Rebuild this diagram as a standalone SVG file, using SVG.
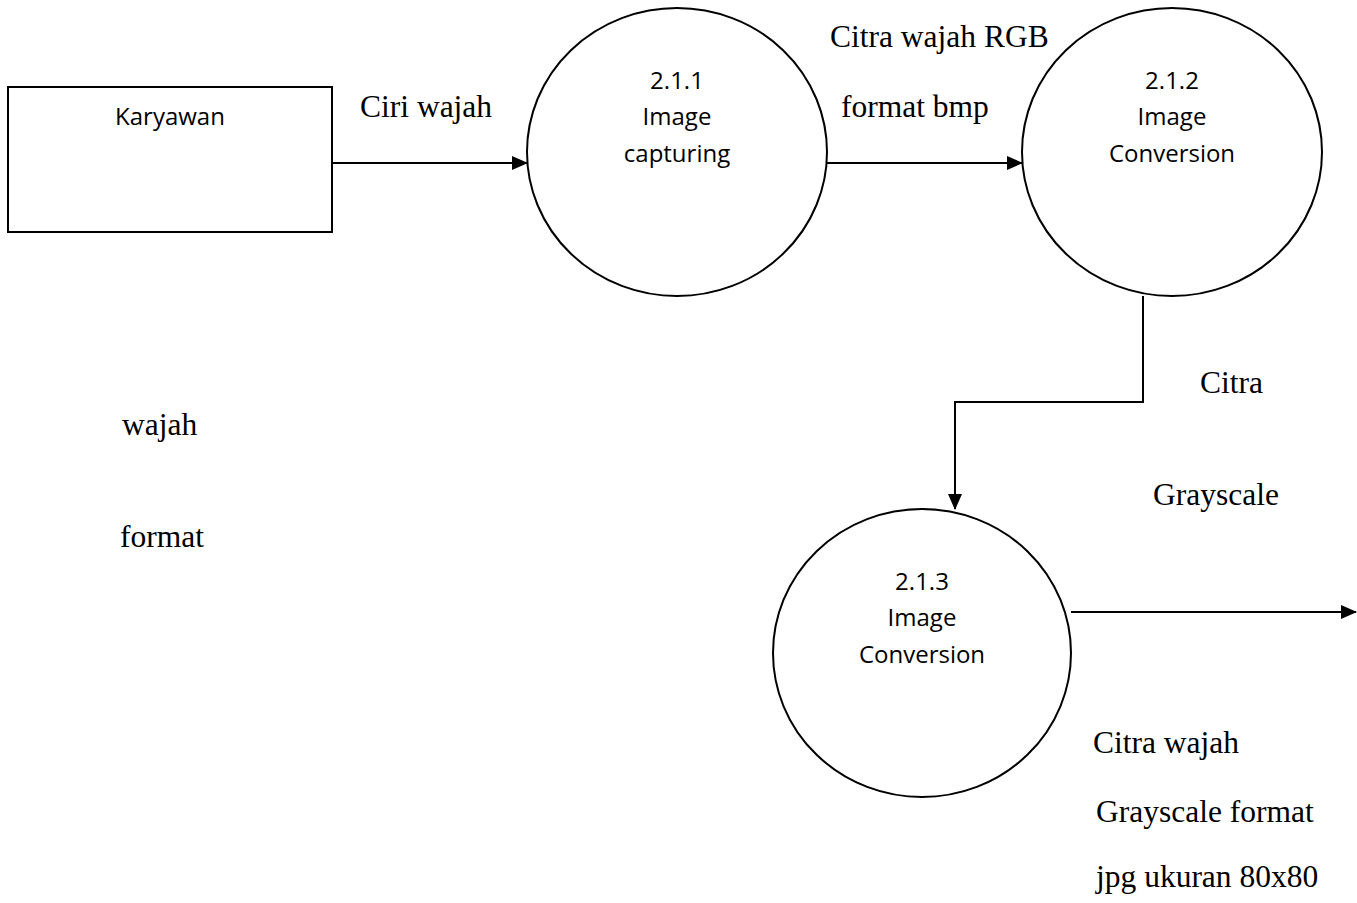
<svg xmlns="http://www.w3.org/2000/svg" width="1357" height="903" viewBox="0 0 1357 903">
<style>
.shape{fill:#fff;stroke:#000;stroke-width:2}
.conn{fill:none;stroke:#000;stroke-width:2}
.lbl{font-family:"Open Sans","Liberation Sans",sans-serif;font-size:24px;fill:#000;text-anchor:middle}
.ser{font-family:"Liberation Serif","Times New Roman",serif;font-size:31.5px;fill:#000}
</style>
<defs>
<marker id="arr" markerUnits="userSpaceOnUse" markerWidth="16" markerHeight="14" refX="15" refY="7" orient="auto">
<path d="M0,0 L16,7 L0,14 Z" fill="#000"/>
</marker>
</defs>
<rect width="1357" height="903" fill="#fff"/>
<g id="karyawan">
<rect class="shape" x="8" y="87" width="324" height="145"/>
<text class="lbl" x="170" y="125">Karyawan</text>
</g>
<g id="p211">
<ellipse class="shape" cx="677" cy="152" rx="150" ry="144"/>
<text class="lbl" x="677" y="89">2.1.1</text>
<text class="lbl" x="677" y="125">Image</text>
<text class="lbl" x="677" y="162">capturing</text>
</g>
<g id="p212">
<ellipse class="shape" cx="1172" cy="152" rx="150" ry="144"/>
<text class="lbl" x="1172" y="89">2.1.2</text>
<text class="lbl" x="1172" y="125">Image</text>
<text class="lbl" x="1172" y="162">Conversion</text>
</g>
<g id="p213">
<ellipse class="shape" cx="922" cy="653" rx="149" ry="144"/>
<text class="lbl" x="922" y="590">2.1.3</text>
<text class="lbl" x="922" y="626">Image</text>
<text class="lbl" x="922" y="663">Conversion</text>
</g>
<g id="connectors">
<line class="conn" x1="332" y1="163" x2="527" y2="163" marker-end="url(#arr)"/>
<line class="conn" x1="827" y1="163" x2="1022" y2="163" marker-end="url(#arr)"/>
<polyline class="conn" points="1143,296 1143,402 955,402 955,509" marker-end="url(#arr)"/>
<line class="conn" x1="1071" y1="612" x2="1356" y2="612" marker-end="url(#arr)"/>
</g>
<g id="labels">
<text class="ser" x="360" y="117">Ciri wajah</text>
<text class="ser" x="830" y="47">Citra wajah RGB</text>
<text class="ser" x="841" y="117">format bmp</text>
<text class="ser" x="1200" y="393">Citra</text>
<text class="ser" x="1153" y="505">Grayscale</text>
<text class="ser" x="122" y="435">wajah</text>
<text class="ser" x="120" y="547">format</text>
<text class="ser" x="1093" y="753">Citra wajah</text>
<text class="ser" x="1096" y="822">Grayscale format</text>
<text class="ser" x="1096" y="887">jpg ukuran 80x80</text>
</g>
</svg>
